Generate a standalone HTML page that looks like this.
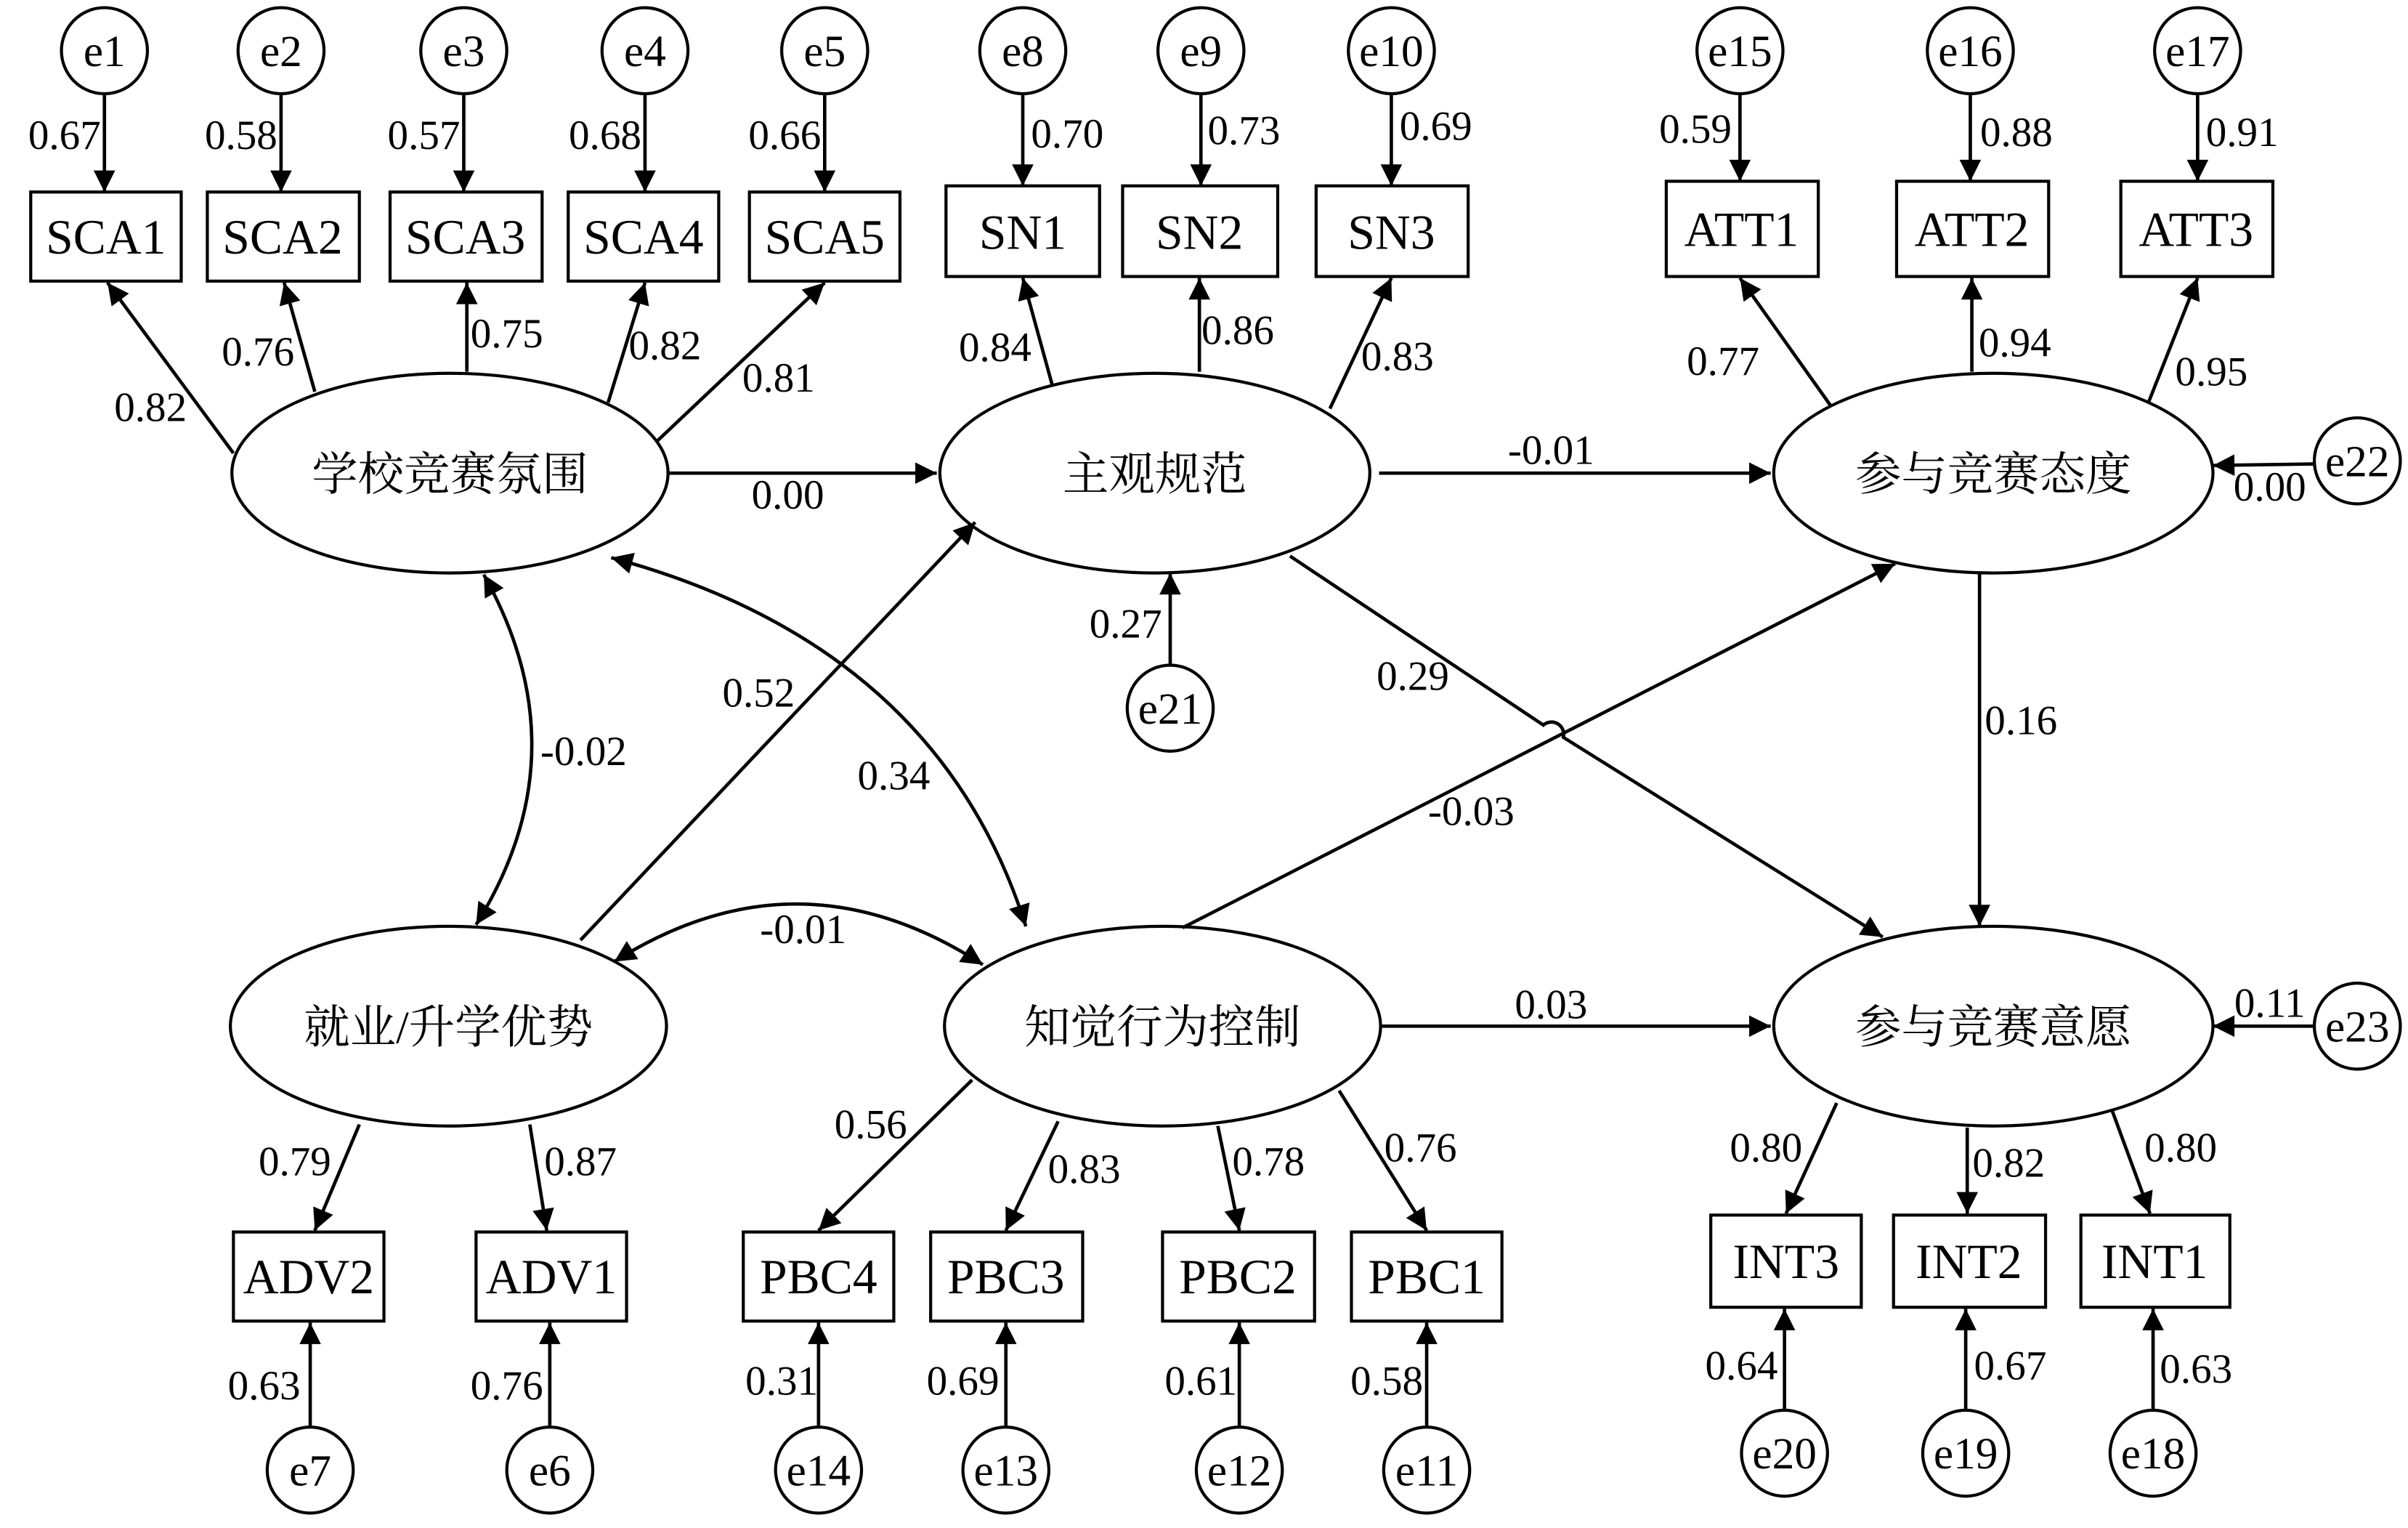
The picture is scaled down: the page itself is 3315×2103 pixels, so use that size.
<!DOCTYPE html>
<html><head><meta charset="utf-8"><style>
html,body{margin:0;padding:0;background:#fff;}
svg{display:block;}
text{font-family:"Liberation Serif","Noto Serif CJK SC",serif;fill:#000;}
.l{font-size:27px;text-anchor:middle;}
.b{font-size:32px;text-anchor:middle;}
.c{font-size:29px;text-anchor:middle;}
</style></head><body>
<svg width="3315" height="2103" viewBox="0 0 1568 994.7" preserveAspectRatio="none" xmlns="http://www.w3.org/2000/svg">
<defs>
<marker id="m" viewBox="0 0 10 10" refX="10" refY="5" markerWidth="16" markerHeight="14" markerUnits="userSpaceOnUse" orient="auto-start-reverse"><path d="M0,0 L10,5 L0,10 z" fill="#000"/></marker></defs>
<g stroke="#000" stroke-width="2" fill="none">
<circle cx="68" cy="33" r="28"/><circle cx="183" cy="33" r="28"/><circle cx="302" cy="33" r="28"/><circle cx="420" cy="33" r="28"/><circle cx="537" cy="33" r="28"/>
<circle cx="666" cy="33" r="28"/><circle cx="782" cy="33" r="28"/><circle cx="906" cy="33" r="28"/>
<circle cx="1133" cy="33" r="28"/><circle cx="1283" cy="33" r="28"/><circle cx="1431" cy="33" r="28"/>
<circle cx="1535" cy="300" r="28"/><circle cx="762" cy="461" r="28"/><circle cx="1535" cy="668" r="28"/>
<circle cx="202" cy="957" r="28"/><circle cx="358" cy="957" r="28"/>
<circle cx="533" cy="957" r="28"/><circle cx="655" cy="957" r="28"/><circle cx="807" cy="957" r="28"/><circle cx="929" cy="957" r="28"/>
<circle cx="1162" cy="946" r="28"/><circle cx="1280" cy="946" r="28"/><circle cx="1402" cy="946" r="28"/>
<rect x="20" y="125" width="98" height="58"/><rect x="135" y="125" width="99" height="58"/><rect x="254" y="125" width="99" height="58"/><rect x="370" y="125" width="98" height="58"/><rect x="488" y="125" width="98" height="58"/>
<rect x="616" y="121" width="100" height="59"/><rect x="731" y="121" width="101" height="59"/><rect x="857" y="121" width="99" height="59"/>
<rect x="1085" y="118" width="99" height="62"/><rect x="1235" y="118" width="99" height="62"/><rect x="1381" y="118" width="99" height="62"/>
<rect x="152" y="802" width="98" height="58"/><rect x="310" y="802" width="98" height="58"/>
<rect x="484" y="802" width="98" height="58"/><rect x="606" y="802" width="99" height="58"/><rect x="757" y="802" width="99" height="58"/><rect x="880" y="802" width="98" height="58"/>
<rect x="1114" y="791" width="98" height="60"/><rect x="1233" y="791" width="99" height="60"/><rect x="1355" y="791" width="97" height="60"/>
<ellipse cx="293" cy="308" rx="142" ry="65"/><ellipse cx="752" cy="308" rx="140" ry="65"/><ellipse cx="1298" cy="308" rx="143" ry="65"/>
<ellipse cx="292" cy="668" rx="142" ry="65"/><ellipse cx="757" cy="668" rx="142" ry="65"/><ellipse cx="1298" cy="668" rx="143" ry="65"/>
</g>
<g stroke="#000" stroke-width="2.2" fill="none" marker-end="url(#m)">
<line x1="68" y1="61" x2="68" y2="125"/><line x1="183" y1="61" x2="183" y2="125"/><line x1="302" y1="61" x2="302" y2="125"/><line x1="420" y1="61" x2="420" y2="125"/><line x1="537" y1="61" x2="537" y2="125"/>
<line x1="666" y1="61" x2="666" y2="121"/><line x1="782" y1="61" x2="782" y2="121"/><line x1="906" y1="61" x2="906" y2="121"/>
<line x1="1133" y1="61" x2="1133" y2="118"/><line x1="1283" y1="61" x2="1283" y2="118"/><line x1="1431" y1="61" x2="1431" y2="118"/>
<line x1="152" y1="295" x2="70" y2="184"/><line x1="205" y1="255" x2="185" y2="184"/><line x1="304" y1="242" x2="304" y2="184"/><line x1="396" y1="262" x2="420" y2="184"/><line x1="428" y1="287" x2="537" y2="184"/>
<line x1="685" y1="250" x2="666" y2="181"/><line x1="781" y1="242" x2="781" y2="181"/><line x1="866" y1="266" x2="906" y2="181"/>
<line x1="1192" y1="264" x2="1133" y2="181"/><line x1="1284" y1="242" x2="1284" y2="181"/><line x1="1399" y1="262" x2="1431" y2="181"/>
<line x1="1507" y1="302" x2="1441" y2="303"/><line x1="762" y1="433" x2="762" y2="373"/><line x1="1507" y1="668" x2="1441" y2="668"/>
<line x1="435" y1="308" x2="610" y2="308"/><line x1="898" y1="308" x2="1153" y2="308"/><line x1="1289" y1="373" x2="1289" y2="603"/>
<path d="M840,362 L1005,472 A8,8 0 0 1 1018,480 L1226,610"/>
<line x1="770" y1="604" x2="1234" y2="367"/>
<line x1="378" y1="612" x2="635" y2="340"/>
<line x1="899" y1="668" x2="1153" y2="668"/>
<line x1="234" y1="732" x2="205" y2="801"/><line x1="345" y1="732" x2="356" y2="801"/>
<line x1="633" y1="703" x2="533" y2="801"/><line x1="689" y1="730" x2="655" y2="801"/><line x1="793" y1="733" x2="807" y2="801"/><line x1="872" y1="710" x2="929" y2="801"/>
<line x1="1196" y1="718" x2="1163" y2="790"/><line x1="1281" y1="734" x2="1281" y2="790"/><line x1="1375" y1="722" x2="1400" y2="790"/>
<line x1="202" y1="929" x2="202" y2="861"/><line x1="358" y1="929" x2="358" y2="861"/>
<line x1="533" y1="929" x2="533" y2="861"/><line x1="655" y1="929" x2="655" y2="861"/><line x1="807" y1="929" x2="807" y2="861"/><line x1="929" y1="929" x2="929" y2="861"/>
<line x1="1162" y1="918" x2="1162" y2="852"/><line x1="1280" y1="918" x2="1280" y2="852"/><line x1="1402" y1="918" x2="1402" y2="852"/>
<path d="M315,374 Q380,490 310,602" marker-start="url(#m)"/>
<path d="M398,363 Q610,420 668,603" marker-start="url(#m)"/>
<path d="M400,626 Q520,550 640,628" marker-start="url(#m)"/>
</g>
<g class="c">
<text x="68" y="43">e1</text><text x="183" y="43">e2</text><text x="302" y="43">e3</text><text x="420" y="43">e4</text><text x="537" y="43">e5</text>
<text x="666" y="43">e8</text><text x="782" y="43">e9</text><text x="906" y="43">e10</text>
<text x="1133" y="43">e15</text><text x="1283" y="43">e16</text><text x="1431" y="43">e17</text>
<text x="1535" y="310">e22</text><text x="762" y="471">e21</text><text x="1535" y="678">e23</text>
<text x="202" y="967">e7</text><text x="358" y="967">e6</text>
<text x="533" y="967">e14</text><text x="655" y="967">e13</text><text x="807" y="967">e12</text><text x="929" y="967">e11</text>
<text x="1162" y="956">e20</text><text x="1280" y="956">e19</text><text x="1402" y="956">e18</text>
</g>
<g class="b">
<text x="69" y="165">SCA1</text><text x="184" y="165">SCA2</text><text x="303" y="165">SCA3</text><text x="419" y="165">SCA4</text><text x="537" y="165">SCA5</text>
<text x="666" y="162">SN1</text><text x="781" y="162">SN2</text><text x="906" y="162">SN3</text>
<text x="1134" y="160">ATT1</text><text x="1284" y="160">ATT2</text><text x="1430" y="160">ATT3</text>
<text x="201" y="842">ADV2</text><text x="359" y="842">ADV1</text>
<text x="533" y="842">PBC4</text><text x="655" y="842">PBC3</text><text x="806" y="842">PBC2</text><text x="929" y="842">PBC1</text>
<text x="1163" y="832">INT3</text><text x="1282" y="832">INT2</text><text x="1403" y="832">INT1</text>
</g>
<g class="c" style="font-size:30px">
<text x="293" y="319">学校竞赛氛围</text><text x="752" y="319">主观规范</text><text x="1298" y="319">参与竞赛态度</text>
<text x="292" y="679">就业/升学优势</text><text x="757" y="679">知觉行为控制</text><text x="1298" y="679">参与竞赛意愿</text>
</g>
<g class="l">
<text x="42" y="97">0.67</text><text x="157" y="97">0.58</text><text x="276" y="97">0.57</text><text x="394" y="97">0.68</text><text x="511" y="97">0.66</text>
<text x="695" y="96">0.70</text><text x="810" y="94">0.73</text><text x="935" y="91">0.69</text>
<text x="1104" y="93">0.59</text><text x="1313" y="95">0.88</text><text x="1460" y="95">0.91</text>
<text x="98" y="274">0.82</text><text x="168" y="238">0.76</text><text x="330" y="226">0.75</text><text x="433" y="234">0.82</text><text x="507" y="255">0.81</text>
<text x="648" y="235">0.84</text><text x="806" y="224">0.86</text><text x="910" y="241">0.83</text>
<text x="1122" y="244">0.77</text><text x="1312" y="232">0.94</text><text x="1440" y="251">0.95</text>
<text x="1478" y="326">0.00</text><text x="733" y="415">0.27</text><text x="1478" y="662">0.11</text>
<text x="513" y="331">0.00</text><text x="1010" y="302">-0.01</text><text x="1316" y="478">0.16</text>
<text x="920" y="449">0.29</text><text x="958" y="537">-0.03</text><text x="494" y="460">0.52</text><text x="1010" y="663">0.03</text>
<text x="380" y="498">-0.02</text><text x="582" y="514">0.34</text><text x="523" y="614">-0.01</text>
<text x="192" y="765">0.79</text><text x="378" y="765">0.87</text>
<text x="567" y="741">0.56</text><text x="706" y="770">0.83</text><text x="826" y="765">0.78</text><text x="925" y="756">0.76</text>
<text x="1150" y="756">0.80</text><text x="1308" y="766">0.82</text><text x="1420" y="756">0.80</text>
<text x="172" y="911">0.63</text><text x="330" y="911">0.76</text>
<text x="509" y="908">0.31</text><text x="627" y="908">0.69</text><text x="782" y="908">0.61</text><text x="903" y="908">0.58</text>
<text x="1134" y="898">0.64</text><text x="1309" y="898">0.67</text><text x="1430" y="900">0.63</text>
</g>
</svg>
</body></html>
